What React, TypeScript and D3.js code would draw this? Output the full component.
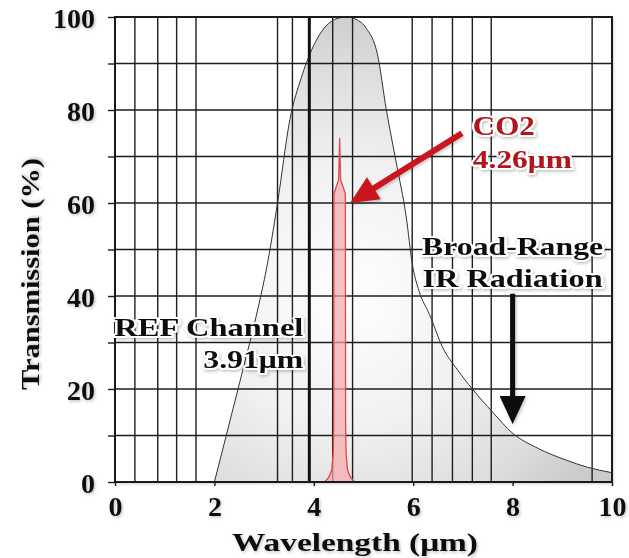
import React, { useEffect, useRef } from 'react';
import * as d3 from 'd3';

// plot values
const xTicks = [0, 2, 4, 6, 8, 10];
const yTicks = [0, 10, 20, 30, 40, 50, 60, 70, 80, 90, 100];
const xGridLines = [0.4, 0.86, 1.24, 1.63, 3.27, 3.57, 4.38, 4.78, 5.98, 6.38, 6.79, 7.19, 7.57, 9.6];

const irWavelength = [2.0, 2.25, 2.57, 2.87, 3.05, 3.27, 3.52, 3.75, 3.96, 4.2, 4.45, 4.66, 4.85, 5.06, 5.28, 5.46, 5.66, 5.86, 5.98, 6.12, 6.33, 6.59, 6.9, 7.19, 7.6, 8.0, 8.5, 9.08, 9.5, 10];
const irTransmission = [0, 10.5, 24, 37, 46, 60, 78, 87, 93, 97.5, 99.6, 100, 99.5, 97.5, 92, 80, 68.6, 57, 47, 41, 36, 29, 24, 20, 15, 10.5, 7.3, 4.7, 3.2, 2];

const co2Wavelength = [4.22, 4.3, 4.36, 4.39, 4.4, 4.405, 4.5, 4.52, 4.54, 4.635, 4.64, 4.65, 4.68, 4.74, 4.82];
const co2Transmission = [0, 1, 2.5, 6, 12, 62, 65, 74, 65, 62, 12, 6, 2.5, 1, 0];

const refWavelength = 3.91;
const co2Arrow = [[6.98, 75], [4.73, 60]];
const irArrow = [[8.0, 40.5], [8.0, 12.5]];

const font = '"Liberation Serif", "Times New Roman", serif';

const arrowPoints = (x1, y1, x2, y2, sw, hw, hl) => {
  const len = Math.hypot(x2 - x1, y2 - y1);
  const ux = (x2 - x1) / len, uy = (y2 - y1) / len;
  const nx = -uy, ny = ux;
  const bx = x2 - ux * hl, by = y2 - uy * hl;
  return [
    [x1 + nx * sw / 2, y1 + ny * sw / 2],
    [bx + nx * sw / 2, by + ny * sw / 2],
    [bx + nx * hw / 2, by + ny * hw / 2],
    [x2, y2],
    [bx - nx * hw / 2, by - ny * hw / 2],
    [bx - nx * sw / 2, by - ny * sw / 2],
    [x1 - nx * sw / 2, y1 - ny * sw / 2],
  ].map(p => p.join(',')).join(' ');
};

const Chart = () => {
  const ref = useRef(null);
  const width = 629, height = 558;
  const margin = { top: 17, right: 17, bottom: 76, left: 115 };

  useEffect(() => {
    const svg = d3.select(ref.current);
    svg.selectAll('*').remove();

    const x = d3.scaleLinear().domain([0, 10]).range([margin.left, width - margin.right]);
    const y = d3.scaleLinear().domain([0, 100]).range([height - margin.bottom, margin.top]);

    const defs = svg.append('defs');
    const shadow = defs.append('filter').attr('id', 'shadow')
      .attr('x', '-20%').attr('y', '-20%').attr('width', '140%').attr('height', '140%');
    shadow.append('feDropShadow').attr('dx', 1.2).attr('dy', 1.5)
      .attr('stdDeviation', 1.8).attr('flood-color', '#000').attr('flood-opacity', 0.25);

    const grad = defs.append('radialGradient').attr('id', 'irFill')
      .attr('gradientUnits', 'userSpaceOnUse')
      .attr('cx', x(4.7)).attr('cy', y(40)).attr('r', 290);
    grad.append('stop').attr('offset', 0).attr('stop-color', '#ffffff');
    grad.append('stop').attr('offset', 0.45).attr('stop-color', '#f1f1f1');
    grad.append('stop').attr('offset', 0.8).attr('stop-color', '#dcdcdc');
    grad.append('stop').attr('offset', 1).attr('stop-color', '#cbcbcb');

    // frame background with shadow
    svg.append('rect')
      .attr('x', x(0)).attr('y', y(100))
      .attr('width', x(10) - x(0)).attr('height', y(0) - y(100))
      .attr('fill', '#fff')
      .attr('filter', 'url(#shadow)');

    const irData = irWavelength.map((w, i) => [w, irTransmission[i]]);
    const co2Data = co2Wavelength.map((w, i) => [w, co2Transmission[i]]);

    svg.append('path')
      .datum(irData)
      .attr('fill', 'url(#irFill)')
      .attr('d', d3.area().x(d => x(d[0])).y0(y(0)).y1(d => y(d[1])).curve(d3.curveMonotoneX));

    // grid
    svg.append('g').selectAll('line').data(yTicks).enter().append('line')
      .attr('x1', x(0)).attr('x2', x(10))
      .attr('y1', d => y(d)).attr('y2', d => y(d))
      .attr('stroke', '#1e1e1e').attr('stroke-width', 1.4);
    svg.append('g').selectAll('line').data(xGridLines).enter().append('line')
      .attr('x1', d => x(d)).attr('x2', d => x(d))
      .attr('y1', y(0)).attr('y2', y(100))
      .attr('stroke', '#1e1e1e').attr('stroke-width', 1.4);

    // CO2 absorption peak
    svg.append('path')
      .datum(co2Data)
      .attr('fill', '#f5a8a8').attr('fill-opacity', 0.7)
      .attr('stroke', '#e04848').attr('stroke-width', 1.3)
      .attr('d', d3.line().x(d => x(d[0])).y(d => y(d[1])));

    svg.append('path')
      .datum(irData)
      .attr('fill', 'none').attr('stroke', '#333').attr('stroke-width', 1)
      .attr('d', d3.line().x(d => x(d[0])).y(d => y(d[1])).curve(d3.curveMonotoneX));

    // REF channel line
    svg.append('line')
      .attr('x1', x(refWavelength)).attr('x2', x(refWavelength))
      .attr('y1', y(0)).attr('y2', y(100))
      .attr('stroke', '#111').attr('stroke-width', 3);

    // frame
    svg.append('rect')
      .attr('x', x(0)).attr('y', y(100))
      .attr('width', x(10) - x(0)).attr('height', y(0) - y(100))
      .attr('fill', 'none').attr('stroke', '#1a1a1a').attr('stroke-width', 2);

    // axes
    const yAxis = svg.append('g')
      .attr('transform', `translate(${x(0)},0)`)
      .call(d3.axisLeft(y).tickValues(yTicks).tickSize(7).tickPadding(13)
        .tickFormat(d => (d % 20 === 0 ? d : '')));
    const xAxis = svg.append('g')
      .attr('transform', `translate(0,${y(0)})`)
      .call(d3.axisBottom(x).tickValues(xTicks).tickSize(4).tickPadding(10));
    [xAxis, yAxis].forEach(g => {
      g.select('.domain').remove();
      g.selectAll('line').attr('stroke', '#1a1a1a').attr('stroke-width', 1.4);
      g.selectAll('text')
        .attr('fill', '#111')
        .style('font-family', font).style('font-weight', 'bold').style('font-size', '28px')
        .attr('filter', 'url(#shadow)');
    });
    yAxis.selectAll('text').attr('dy', '0.38em');

    const label = (txt, px, py, len, opts = {}) => {
      const t = svg.append('text')
        .attr('x', px).attr('y', py)
        .attr('text-anchor', opts.anchor || 'start')
        .attr('fill', opts.color || '#111')
        .attr('textLength', len).attr('lengthAdjust', 'spacingAndGlyphs')
        .style('font-family', font).style('font-weight', 'bold')
        .style('font-size', `${opts.size || 26}px`)
        .text(txt);
      if (opts.halo) {
        t.attr('stroke', '#fff').attr('stroke-width', 4).attr('stroke-linejoin', 'round')
          .attr('paint-order', 'stroke');
      }
      if (opts.rotate) t.attr('transform', `rotate(-90,${px},${py})`);
      t.attr('filter', 'url(#shadow)');
      return t;
    };

    label('Transmission (%)', 39, 274, 232, { anchor: 'middle', rotate: true });
    label('Wavelength (μm)', 355, 551, 246, { anchor: 'middle' });

    // annotations
    label('REF Channel', x(refWavelength) - 6, y(31.5), 189, { anchor: 'end', halo: true });
    label('3.91μm', x(refWavelength) - 6, y(24.6), 100, { anchor: 'end', halo: true });
    label('Broad-Range', x(8.0), y(48.8), 181, { anchor: 'middle', halo: true });
    label('IR Radiation', x(8.0), y(42), 180, { anchor: 'middle', halo: true });
    label('CO2', x(7.2), y(74.6), 62, { color: '#b0161e', halo: true, size: 27 });
    label('4.26μm', x(7.2), y(67.6), 99, { color: '#b0161e', halo: true });

    svg.append('polygon')
      .attr('points', arrowPoints(x(co2Arrow[0][0]), y(co2Arrow[0][1]), x(co2Arrow[1][0]), y(co2Arrow[1][1]), 6, 26, 28))
      .attr('fill', '#c8141c')
      .attr('filter', 'url(#shadow)');
    svg.append('polygon')
      .attr('points', arrowPoints(x(irArrow[0][0]), y(irArrow[0][1]), x(irArrow[1][0]), y(irArrow[1][1]), 5, 26, 28))
      .attr('fill', '#0e0e0e')
      .attr('filter', 'url(#shadow)');
  }, []);

  return (
    <svg ref={ref} width={width} height={height}
      style={{ position: 'absolute', left: 0, top: 0, background: '#fff' }} />
  );
};

export default function App() {
  return <Chart />;
}
